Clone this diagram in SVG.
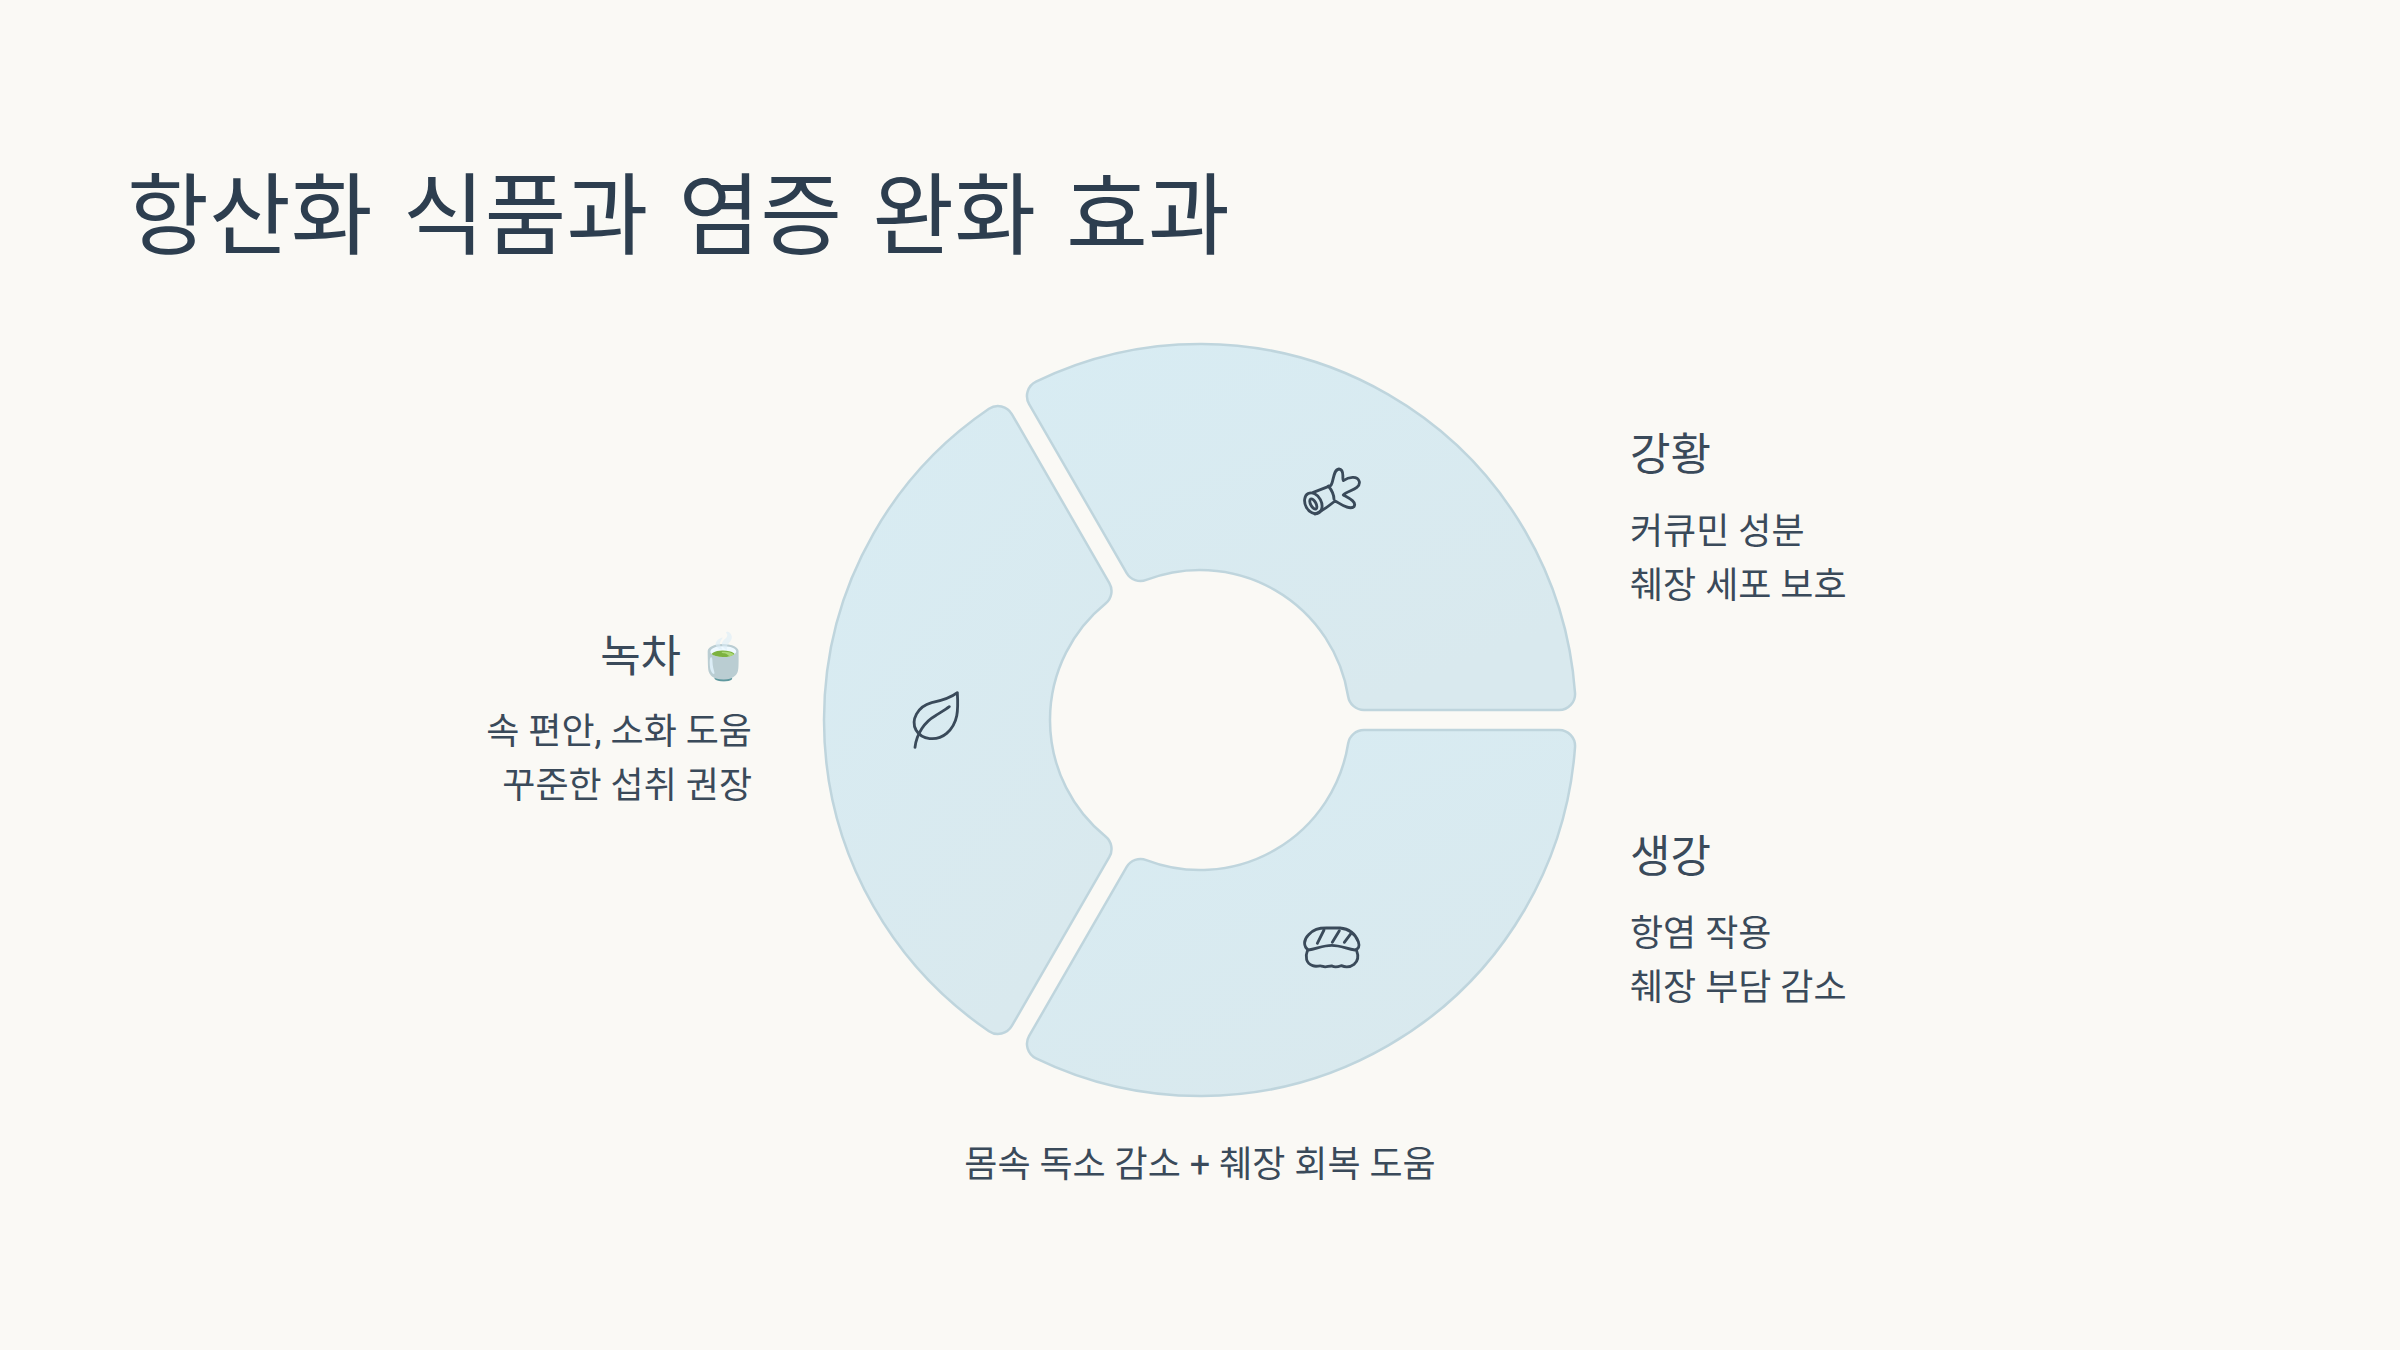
<svg xmlns="http://www.w3.org/2000/svg" width="2400" height="1350" viewBox="0 0 2400 1350">
<style>
text{font-family:Roboto,"Noto Sans CJK KR",sans-serif;fill:#2c3e50}
.t{font-size:89px;word-spacing:8px;fill:#2d3e4f}
.h{font-size:44px;fill:#3a4a5a}
.w{word-spacing:4px}
.b{font-size:36px;fill:#3a4a5a}
.e{text-anchor:end}
.m{text-anchor:middle}
.s{fill:url(#g);stroke:#bfd5dd;stroke-width:2.5}
.i{fill:none;stroke:#3a4a5a;stroke-width:8.5;stroke-linecap:round;stroke-linejoin:round}
</style>
<defs><linearGradient id="g" x1="0" y1="0" x2="0.6" y2="1"><stop offset="0" stop-color="#d8ecf3"/><stop offset="1" stop-color="#d9e9ee"/></linearGradient></defs>
<rect width="2400" height="1350" fill="#faf9f5"/>
<text class="t" x="127" y="247">항산화 식품과 염증 완화 효과</text>
<g id="seg-turmeric">
<path class="s" d="M1363.95 710H1559.06A16 16 0 0 0 1575.02 692.84A376 376 0 0 0 1036.01 381.65A16 16 0 0 0 1029.13 404.05L1126.69 573.02A16 16 0 0 0 1146.28 579.95A150 150 0 0 1 1348.15 696.5A16 16 0 0 0 1363.95 710Z"/>
<g class="i" transform="translate(1260 440) scale(.3333)"><path d="M160 157L212 137C222 125 218 90 237 87C256 88 245 118 250 122C265 112 292 105 298 125C302 148 262 152 250 165C262 172 292 185 282 200C268 212 240 190 225 183C210 195 190 212 165 222"/><path d="M205 138C215 150 222 165 222 178"/><ellipse cx="160" cy="190" rx="24" ry="33" transform="rotate(-28 160 190)"/><ellipse cx="160" cy="192" rx="8" ry="17" transform="rotate(-28 160 192)"/></g>
</g>
<g id="seg-greentea">
<path class="s" d="M1109.36 583.02L1011.81 414.05A16 16 0 0 0 988.97 408.81A376 376 0 0 0 988.97 1031.19A16 16 0 0 0 1011.81 1025.98L1109.37 856.98A16 16 0 0 0 1105.57 836.55A150 150 0 0 1 1105.57 603.45A16 16 0 0 0 1109.36 583.02Z"/>
<g class="i" transform="translate(890 670) scale(.3333)"><path d="M202 68C205 120 205 160 170 190C140 215 95 210 78 180C62 150 82 110 125 98C155 92 180 85 202 68Z"/><path d="M75 232C80 190 105 155 135 138C150 128 165 120 178 110"/></g>
</g>
<g id="seg-ginger">
<path class="s" d="M1126.69 866.98L1029.13 1035.95A16 16 0 0 0 1036.01 1058.35A376 376 0 0 0 1575.02 747.16A16 16 0 0 0 1559.06 730H1363.95A16 16 0 0 0 1348.15 743.5A150 150 0 0 1 1146.28 860.05A16 16 0 0 0 1126.69 866.98Z"/>
<g class="i" transform="translate(1260 900) scale(.3333)"><path d="M145 150C130 140 130 120 145 105C160 88 175 84 200 84H240C265 86 285 100 295 125C300 140 295 148 285 150C260 146 240 136 215 136C190 136 170 146 145 150Z"/><path d="M142 153C135 170 138 190 158 197C170 202 178 195 188 199C198 204 206 197 216 198C226 204 236 200 244 197C255 202 270 202 282 193C295 182 295 165 290 152"/><path d="M192 90L172 130M238 92L217 127M275 98L253 127"/></g>
</g>
<g id="label-turmeric">
<text class="h" x="1630" y="470">강황</text>
<text class="b" x="1630" y="544">커큐민 성분</text>
<text class="b" x="1630" y="598">췌장 세포 보호</text>
</g>
<g id="label-ginger">
<text class="h" x="1630" y="872">생강</text>
<text class="b" x="1630" y="946">항염 작용</text>
<text class="b" x="1630" y="1000">췌장 부담 감소</text>
</g>
<g id="label-greentea">
<text class="h e w" x="751" y="672">녹차 🍵</text>
<text class="b e" x="752" y="744">속 편안, 소화 도움</text>
<text class="b e" x="752" y="798">꾸준한 섭취 권장</text>
</g>
<g id="caption"><text class="b m" x="1200" y="1177">몸속 독소 감소 + 췌장 회복 도움</text></g>
<g id="connectors"></g>
</svg>
